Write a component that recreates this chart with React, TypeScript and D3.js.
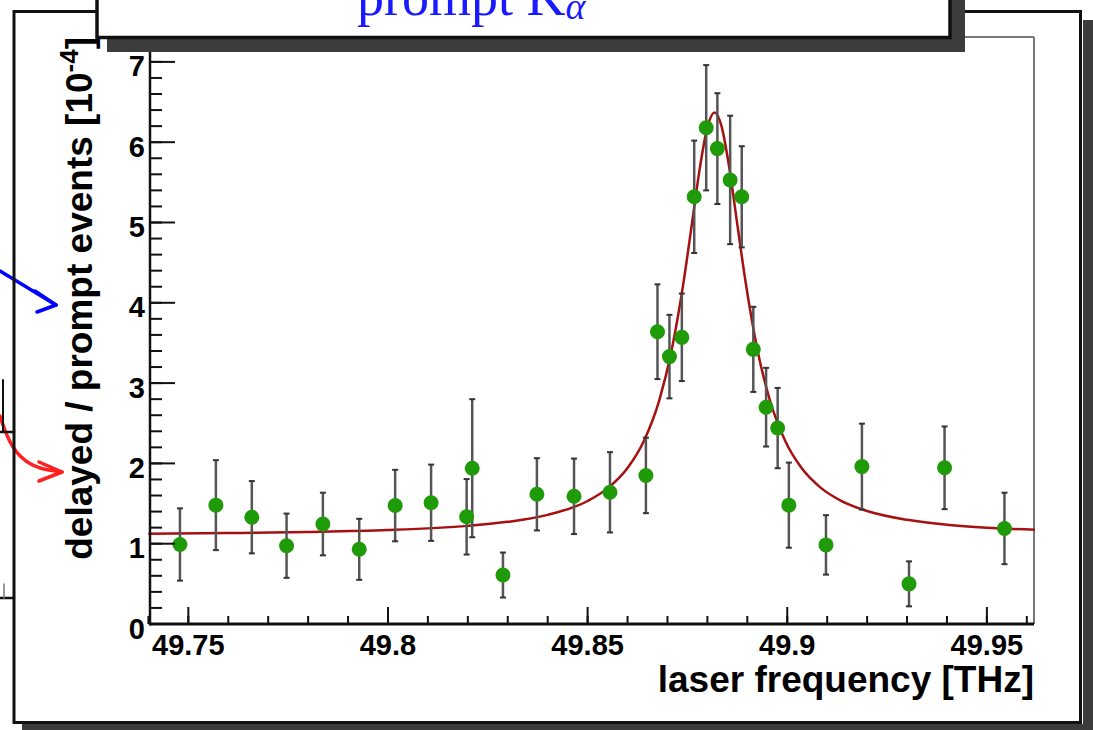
import React from "react";
import * as d3 from "d3";

// measured points (laser frequency in THz, delayed/prompt ratio in 1e-4)
const freq = [
  49.7479, 49.7569, 49.7659, 49.7746, 49.7837, 49.7928, 49.8018, 49.8108,
  49.8197, 49.8211, 49.8288, 49.8373, 49.8466, 49.8556, 49.8646, 49.8675,
  49.8705, 49.8736, 49.8767, 49.8797, 49.8825, 49.8857, 49.8886, 49.8915,
  49.8947, 49.8976, 49.9004, 49.9097, 49.9187, 49.9305, 49.9394, 49.9544,
];
const ratio = [
  0.99, 1.48, 1.33, 0.975, 1.245, 0.93, 1.475, 1.51, 1.335, 1.94, 0.61, 1.615,
  1.59, 1.64, 1.85, 3.64, 3.33, 3.57, 5.32, 6.18, 5.92, 5.53, 5.32, 3.42, 2.7,
  2.44, 1.48, 0.985, 1.96, 0.5, 1.945, 1.19,
];
const ratioErr = [
  0.45, 0.56, 0.45, 0.4, 0.39, 0.38, 0.445, 0.475, 0.47, 0.86, 0.28, 0.45, 0.47,
  0.5, 0.47, 0.59, 0.52, 0.545, 0.7, 0.78, 0.69, 0.8, 0.63, 0.53, 0.49, 0.5,
  0.53, 0.37, 0.535, 0.28, 0.515, 0.445,
];

// fit curve
const fitX = [
  49.74, 49.76, 49.78, 49.8, 49.82, 49.83, 49.84, 49.85, 49.855, 49.86, 49.864,
  49.868, 49.871, 49.874, 49.876, 49.878, 49.88, 49.8818, 49.8835, 49.8855,
  49.8875, 49.8895, 49.8925, 49.8955, 49.8995, 49.9035, 49.9085, 49.9135, 49.92,
  49.93, 49.94, 49.95, 49.962,
];
const fitY = [
  1.124, 1.132, 1.146, 1.17, 1.222, 1.272, 1.359, 1.532, 1.689, 1.942, 2.269,
  2.794, 3.399, 4.248, 4.939, 5.643, 6.187, 6.37, 6.206, 5.676, 4.975, 4.28,
  3.423, 2.811, 2.279, 1.948, 1.692, 1.534, 1.407, 1.297, 1.237, 1.2, 1.173,
];

const xTickLabels = ["49.75", "49.8", "49.85", "49.9", "49.95"];
const yTickLabels = ["0", "1", "2", "3", "4", "5", "6", "7"];

const W = 1093;
const H = 730;
const left = 150, right = 1034, top = 37, bottom = 624;
const font = "'Liberation Sans', Arial, Helvetica, sans-serif";

export default function App() {
  const x = d3.scaleLinear().domain([49.7404, 49.9618]).range([left, right]);
  const y = d3.scaleLinear().domain([0, 7.31]).range([bottom, top]);

  const xMinor = d3.range(49.74, 49.9625, 0.01);
  const yMinor = d3.range(0, 7.3, 0.2);

  const line = d3
    .line<number>()
    .x((d, i) => x(fitX[i]))
    .y((d) => y(d))
    .curve(d3.curveMonotoneX);

  const redArrow = d3.line().curve(d3.curveBasis)([
    [0, 416],
    [8, 440],
    [20, 458],
    [38, 469],
    [62, 472],
  ]);

  return (
    <svg
      width={W}
      height={H}
      style={{ position: "absolute", left: 0, top: 0, background: "#fff" }}
    >
      <rect x={0} y={0} width={W} height={H} fill="#fff" />

      {/* bits of the neighbouring figure */}
      <g fill="none" strokeLinecap="round" strokeLinejoin="round">
        <line x1={0} y1={271} x2={56} y2={305} stroke="#0000ff" strokeWidth={3.5} />
        <path d="M35,291 L56,305 L37,312" stroke="#0000ff" strokeWidth={3.5} />
        <path d={redArrow || ""} stroke="#ff2020" strokeWidth={3.5} />
        <path d="M39,462 L62,472 L39,481" stroke="#ff2020" strokeWidth={3.5} />
        <line x1={3} y1={380} x2={3} y2={432} stroke="#111" strokeWidth={2} />
        <line x1={0} y1={432} x2={14} y2={432} stroke="#111" strokeWidth={2.5} />
        <line x1={0} y1={598} x2={14} y2={598} stroke="#111" strokeWidth={2.5} />
        <line x1={4} y1={584} x2={4} y2={598} stroke="#777" strokeWidth={1.5} />
      </g>

      {/* pad shadow and frame */}
      <rect x={1083} y={20} width={10} height={710} fill="#3c3c3c" />
      <rect x={22} y={724} width={1071} height={6} fill="#3c3c3c" />
      <rect x={14} y={11.5} width={1066.5} height={711} fill="none" stroke="#111" strokeWidth={3} />

      {/* frame top/right */}
      <line x1={left} y1={top} x2={right} y2={top} stroke="#777" strokeWidth={2} />
      <line x1={right} y1={top} x2={right} y2={bottom} stroke="#777" strokeWidth={2} />

      {/* fit */}
      <path d={line(fitY) || ""} fill="none" stroke="#a51010" strokeWidth={2.5} />

      {/* error bars */}
      <g stroke="#333" strokeWidth={2}>
        {freq.map((f, i) => (
          <g key={i}>
            <line x1={x(f)} x2={x(f)} y1={y(ratio[i] - ratioErr[i])} y2={y(ratio[i] + ratioErr[i])} stroke="#555" strokeWidth={2.5} />
            <line x1={x(f) - 3} x2={x(f) + 3} y1={y(ratio[i] - ratioErr[i])} y2={y(ratio[i] - ratioErr[i])} />
            <line x1={x(f) - 3} x2={x(f) + 3} y1={y(ratio[i] + ratioErr[i])} y2={y(ratio[i] + ratioErr[i])} />
          </g>
        ))}
      </g>

      {/* markers */}
      <g fill="#1f9a08">
        {freq.map((f, i) => (
          <circle key={i} cx={x(f)} cy={y(ratio[i])} r={7.5} />
        ))}
      </g>

      {/* axes */}
      <g stroke="#111" strokeWidth={2}>
        {xMinor.map((v, i) => (
          <line key={"xm" + i} x1={x(v)} x2={x(v)} y1={bottom} y2={bottom - 8} />
        ))}
        {xTickLabels.map((t) => (
          <line key={"xM" + t} x1={x(+t)} x2={x(+t)} y1={bottom} y2={bottom - 17} />
        ))}
        {yMinor.map((v, i) => (
          <line key={"ym" + i} x1={left} x2={left + 12} y1={y(v)} y2={y(v)} />
        ))}
        {yTickLabels.map((t) => (
          <line key={"yM" + t} x1={left} x2={left + 25} y1={y(+t)} y2={y(+t)} />
        ))}
        <line x1={left} y1={bottom} x2={right} y2={bottom} strokeWidth={3} />
        <line x1={left} y1={bottom + 1.5} x2={left} y2={top} strokeWidth={2.5} />
      </g>

      <g fontFamily={font} fontWeight="bold" fontSize={29} fill="#000">
        {xTickLabels.map((t) => (
          <text key={t} x={x(+t)} y={655} textAnchor="middle">
            {t}
          </text>
        ))}
        {yTickLabels.map((t) => (
          <text key={t} x={145} y={y(+t) + 14.5} textAnchor="end">
            {t}
          </text>
        ))}
      </g>

      <text x={right} y={692} textAnchor="end" fontFamily={font} fontWeight="bold" fontSize={37}>
        laser frequency [THz]
      </text>
      <text
        transform={`translate(92,${top}) rotate(-90)`}
        textAnchor="end"
        fontFamily={font}
        fontWeight="bold"
        fontSize={37}
      >
        delayed / prompt events [10
        <tspan fontSize={26} dy={-14}>-4</tspan>
        <tspan dy={14}>]</tspan>
      </text>

      {/* title box */}
      <rect x={107} y={-20} width={858} height={72} fill="#3c3c3c" />
      <rect x={97} y={-20} width={853} height={57.5} fill="#fff" stroke="#111" strokeWidth={3.5} />
      <text x={357} y={15} fontFamily="'Liberation Serif', 'Times New Roman', serif" fontSize={54} fill="#1a1aff">
        prompt K
        <tspan fontSize={38} fontStyle="italic" dy={4}>α</tspan>
      </text>
    </svg>
  );
}
